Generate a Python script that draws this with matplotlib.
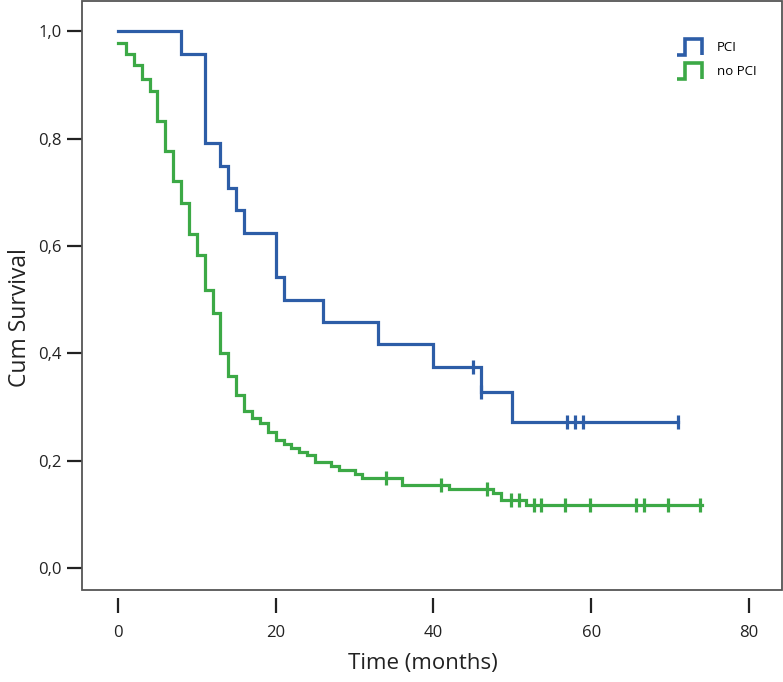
import matplotlib
matplotlib.use("Agg")
import matplotlib.pyplot as plt
from matplotlib.legend_handler import HandlerBase
from matplotlib.lines import Line2D
from matplotlib.patches import Rectangle
from matplotlib.ticker import FuncFormatter

plt.rcParams['font.family'] = ['Open Sans', 'DejaVu Sans']

# ---- data ----
pci_times = [0, 8, 11, 13, 14, 15, 16, 20, 21, 26, 33, 40, 46, 50, 71]
pci_surv = [1.0, 0.958, 0.792, 0.750, 0.708, 0.667, 0.625, 0.542, 0.500,
            0.458, 0.417, 0.375, 0.328, 0.273, 0.273]
pci_cens_t = [45, 46, 57, 58, 59, 71]
pci_cens_s = [0.375, 0.328, 0.273, 0.273, 0.273, 0.273]

nopci_times = [0, 1, 2, 3, 4, 5, 6, 7, 8, 9, 10, 11, 12, 13, 14, 15, 16, 17,
               18, 19, 20, 21, 22, 23, 24, 25, 27, 28, 30, 31, 36, 42, 47.6,
               48.6, 51.8, 74]
nopci_surv = [0.979, 0.958, 0.937, 0.912, 0.889, 0.834, 0.778, 0.721, 0.680,
              0.623, 0.583, 0.518, 0.476, 0.400, 0.358, 0.323, 0.293, 0.279,
              0.270, 0.253, 0.238, 0.231, 0.224, 0.217, 0.210, 0.197, 0.190,
              0.183, 0.176, 0.168, 0.154, 0.147, 0.139, 0.127, 0.117, 0.117]
nopci_cens_t = [34, 41, 46.8, 49.8, 50.8, 52.8, 53.7, 56.7, 59.8, 65.7, 66.7,
                69.7, 73.8]
nopci_cens_s = [0.168, 0.154, 0.147, 0.127, 0.127, 0.117, 0.117, 0.117, 0.117,
                0.117, 0.117, 0.117, 0.117]

labels = ["PCI", "no PCI"]
colors = ["#2D5DA7", "#3CA946"]
x_ticks = [0, 20, 40, 60, 80]
y_ticks = [0.0, 0.2, 0.4, 0.6, 0.8, 1.0]


class StepHandler(HandlerBase):
    def create_artists(self, legend, orig_handle, xdescent, ydescent, width,
                       height, fontsize, trans):
        x0, y0 = -xdescent, -ydescent
        xs = [x0, x0 + width * 0.33, x0 + width * 0.33, x0 + width, x0 + width]
        ys = [y0, y0, y0 + height, y0 + height, y0]
        ln = Line2D(xs, ys, color=orig_handle.get_color(), lw=2.6,
                    solid_joinstyle='miter', solid_capstyle='butt')
        ln.set_transform(trans)
        return [ln]


fig = plt.figure(figsize=(7.83, 6.82), dpi=100)
ax = fig.add_axes([82 / 783, 1 - 590 / 682, 700 / 783, 589.5 / 682])

series = [(pci_times, pci_surv, pci_cens_t, pci_cens_s),
          (nopci_times, nopci_surv, nopci_cens_t, nopci_cens_s)]
handles = []
for (t, s, ct, cs), lab, col in zip(series, labels, colors):
    h, = ax.step(t, s, where='post', color=col, lw=2.3, label=lab,
                 solid_joinstyle='miter')
    ax.plot(ct, cs, ls='none', marker='|', ms=10, mew=2.3, color=col)
    handles.append(h)

ax.set_xlim(-4.56, 84.2)
ax.set_ylim(-0.041, 1.0577)
ax.set_xticks(x_ticks)
ax.set_yticks(y_ticks)
ax.yaxis.set_major_formatter(FuncFormatter(lambda v, p: f"{v:.1f}".replace('.', ',')))

for sp in ax.spines.values():
    sp.set_visible(False)
ax.spines['bottom'].set_position(('outward', 6))
ax.add_patch(Rectangle((0, 0), 1, 1, transform=ax.transAxes, fill=False,
                       ec='#555555', lw=1.3, clip_on=False, zorder=5))

ax.tick_params(axis='both', direction='out', length=10.5, width=1.6,
               color='#222222', labelsize=12, labelcolor='#222222')
ax.tick_params(axis='x', pad=9)
ax.tick_params(axis='y', pad=4)

ax.set_xlabel("Time (months)", fontsize=16, color='#222222')
ax.set_ylabel("Cum Survival", fontsize=16.5, color='#222222')
ax.xaxis.set_label_coords((423 - 82) / 700, -(663 - 590) / 589)
ax.yaxis.set_label_coords(-(82 - 32) / 700, (590 - 318) / 589)
ax.xaxis.label.set_va('center')

fig.legend(handles, labels, handler_map={Line2D: StepHandler()},
           loc='upper left', bbox_to_anchor=(677 / 783, 1 - 39 / 682),
           frameon=False, fontsize=9.5, handlelength=1.9, handleheight=1.5,
           handletextpad=1.1, labelspacing=0.6, borderpad=0,
           borderaxespad=0)

fig.savefig("out.png", dpi=100)
